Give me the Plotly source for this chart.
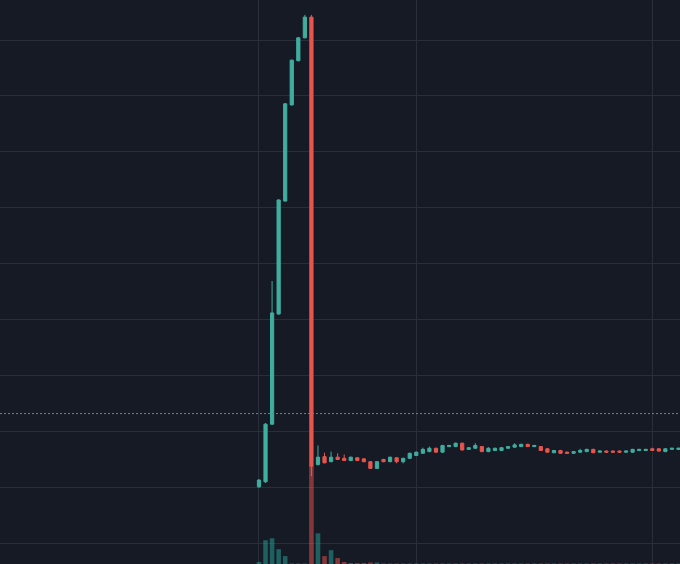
import plotly.graph_objects as go

# candle index (time slots)
idx = list(range(65))

opens = [10.1, 11.0, 21.3, 41.0, 61.2, 78.4, 86.3, 90.4, 94.1,
         14.1, 15.5, 14.6, 15.4, 15.2, 14.8, 15.3, 15.1, 14.6, 13.4, 15.0,
         14.6, 15.3, 14.6, 15.2, 15.7, 16.1, 16.4, 17.0, 16.3, 17.3, 17.3,
         17.9, 16.8, 17.0, 17.3, 16.4, 16.6, 16.6, 17.0, 17.2, 17.3, 17.7,
         17.3, 17.3, 16.9, 16.2, 16.6, 16.3, 16.1, 16.3, 16.4, 16.8, 16.3,
         16.5, 16.5, 16.5, 16.3, 16.3, 16.6, 16.6, 16.9, 16.9, 16.4, 16.8, 16.8]
highs = [11.5, 21.5, 46.9, 61.5, 78.7, 86.5, 90.5, 94.5, 94.5,
         17.5, 16.2, 16.4, 16.1, 15.9, 15.5, 15.4, 15.2, 14.7, 14.7, 15.1,
         15.5, 15.4, 15.3, 16.2, 16.4, 17.1, 17.3, 17.1, 17.6, 17.6, 18.0,
         18.0, 17.2, 17.9, 17.4, 17.2, 17.1, 17.2, 17.4, 17.9, 17.8, 17.8,
         17.6, 17.4, 17.0, 16.7, 16.7, 16.4, 16.5, 16.9, 16.9, 16.9, 16.6,
         16.6, 16.6, 16.6, 16.6, 16.9, 16.9, 16.9, 17.1, 17.0, 17.0, 17.1, 17.1]
lows = [9.9, 10.8, 21.2, 40.9, 61.1, 78.3, 86.2, 90.3, 12.0,
        13.9, 14.3, 14.5, 14.9, 14.7, 14.7, 14.7, 14.5, 13.3, 13.3, 14.5,
        14.5, 14.3, 14.3, 15.1, 15.6, 16.0, 16.3, 16.2, 16.2, 17.2, 17.2,
        16.6, 16.7, 16.9, 16.3, 16.3, 16.5, 16.5, 16.9, 17.1, 17.2, 17.2,
        17.2, 16.5, 16.2, 16.1, 16.0, 16.0, 16.0, 16.2, 16.3, 16.1, 16.2,
        16.2, 16.2, 16.2, 16.2, 16.2, 16.5, 16.5, 16.5, 16.4, 16.3, 16.7, 16.7]
closes = [11.3, 21.3, 41.2, 61.4, 78.6, 86.4, 90.4, 94.1, 13.8,
          15.4, 14.4, 15.4, 15.0, 14.8, 15.4, 14.8, 14.6, 13.4, 14.6, 14.6,
          15.4, 14.6, 15.2, 16.1, 16.3, 16.8, 17.0, 16.3, 17.5, 17.5, 17.9,
          16.7, 17.1, 17.5, 16.4, 17.0, 17.0, 17.1, 17.3, 17.6, 17.7, 17.3,
          17.5, 16.6, 16.3, 16.6, 16.1, 16.1, 16.4, 16.6, 16.8, 16.2, 16.5,
          16.3, 16.3, 16.3, 16.5, 16.8, 16.8, 16.8, 16.6, 16.5, 16.9, 17.0, 17.0]
volumes = [2, 24, 26, 15, 8, 0.5, 0.5, 0.5, 99,
           31, 8, 14, 6, 2, 1, 1, 1, 1.5, 1.5, 0.5,
           0.5, 0.5, 0.5, 0.5, 0.5, 0.5, 0.5, 0.5, 0.5, 0.5, 0.5,
           0.5, 0.5, 0.5, 0.5, 0.5, 0.5, 0.5, 0.5, 0.5, 0.5, 0.5,
           0.5, 0.5, 0.5, 0.5, 0.5, 0.5, 0.5, 0.5, 0.5, 0.5, 0.5,
           0.5, 0.5, 0.5, 0.5, 0.5, 0.5, 0.5, 0.5, 0.5, 0.5, 0.5, 0.5]
price_line = 23.2
time_grid = [0, 24, 60]

UP = "#3fae9f"
DOWN = "#e8554d"
BG = "#161a25"
GRID = "#2a2e3a"

vol_colors = ["rgba(38,166,154,0.5)" if c >= o else "rgba(239,83,80,0.5)"
              for o, c in zip(opens, closes)]

fig = go.Figure()
fig.add_trace(go.Bar(x=idx, y=volumes, marker=dict(color=vol_colors, line=dict(width=0)),
                     yaxis="y2", hoverinfo="skip", showlegend=False))
fig.add_trace(go.Candlestick(
    x=idx, open=opens, high=highs, low=lows, close=closes,
    increasing=dict(line=dict(color=UP, width=1), fillcolor=UP),
    decreasing=dict(line=dict(color=DOWN, width=1), fillcolor=DOWN),
    whiskerwidth=0, showlegend=False))
fig.add_hline(y=price_line, line=dict(color="#5a8f94", width=1, dash="2px,2px"))

fig.update_layout(
    width=680, height=564,
    margin=dict(l=0, r=0, t=0, b=0),
    paper_bgcolor=BG, plot_bgcolor=BG,
    bargap=0.3, boxgap=0.3,
    xaxis=dict(range=[-39.51, 64.23], tickvals=time_grid, showticklabels=False,
               showgrid=True, gridcolor=GRID, gridwidth=1, zeroline=False,
               rangeslider=dict(visible=False), showline=False, fixedrange=True),
    yaxis=dict(range=[-3.70, 97.16], tick0=0, dtick=10, showticklabels=False,
               showgrid=True, gridcolor=GRID, gridwidth=1, zeroline=False, showline=False),
    yaxis2=dict(range=[0, 570], overlaying="y", showgrid=False, showticklabels=False,
                zeroline=False, showline=False),
)

fig.write_html("out.html", config={"displayModeBar": False},
               post_script="document.body.style.margin='0';document.body.style.background='#161a25';")
